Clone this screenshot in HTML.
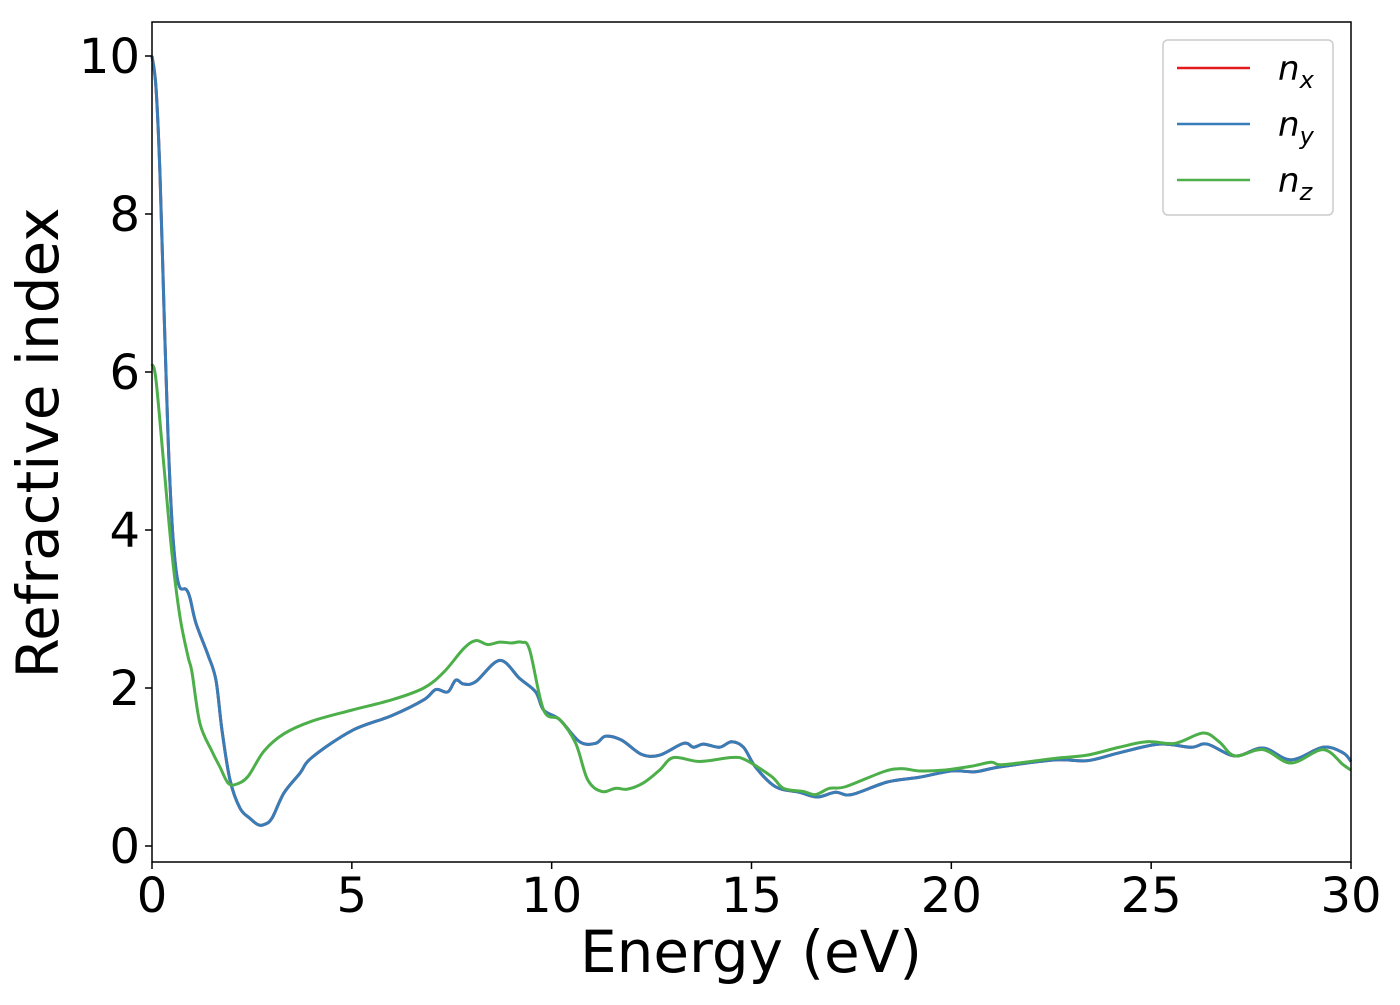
<!DOCTYPE html>
<html><head><meta charset="utf-8"><style>
body{margin:0;background:#fff;}
svg text{font-family:"DejaVu Sans","Liberation Sans",sans-serif;fill:#000;}
</style></head><body>
<svg id="chart" width="1400" height="1000">
<rect x="0" y="0" width="1400" height="1000" fill="#fff"/>
<g id="series"></g>
<rect x="152" y="22" width="1199" height="840" fill="none" stroke="#000" stroke-width="1.5"/>
<g id="axes"></g>
<text x="42" y="443" font-size="58" text-anchor="middle" transform="rotate(-90 42 443)" dominant-baseline="middle">Refractive index</text>
<text x="751" y="972" font-size="58" text-anchor="middle">Energy (eV)</text>
<g>
<rect x="1163" y="40" width="170" height="175" rx="5" fill="#fff" stroke="#ccc" stroke-width="1.5"/>
<line x1="1177" y1="68" x2="1250" y2="68" stroke="#e41a1c" stroke-width="2.5"/>
<text x="1278" y="80" font-size="34" font-style="italic">n<tspan font-size="24" dy="8">x</tspan></text>
<line x1="1177" y1="124" x2="1250" y2="124" stroke="#377eb8" stroke-width="2.5"/>
<text x="1278" y="136" font-size="34" font-style="italic">n<tspan font-size="24" dy="8">y</tspan></text>
<line x1="1177" y1="180" x2="1250" y2="180" stroke="#4daf4a" stroke-width="2.5"/>
<text x="1278" y="192" font-size="34" font-style="italic">n<tspan font-size="24" dy="8">z</tspan></text>
</g>
</svg>
<script>
const xTicks=[0,5,10,15,20,25,30];
const yTicks=[0,2,4,6,8,10];
const energyXY=[0,0.1,0.2,0.3,0.4,0.5,0.6,0.7,0.85,0.95,1.1,1.4,1.6,1.75,1.95,2.2,2.45,2.65,2.8,3.0,3.3,3.7,4.0,5.0,6.0,6.8,7.1,7.4,7.6,7.8,8.1,8.7,9.2,9.6,9.8,10.2,10.7,11.1,11.35,11.75,12.25,12.7,13.3,13.55,13.8,14.2,14.5,14.8,15.1,15.6,16.2,16.65,17.1,17.5,18.4,19.2,20.0,20.6,21.2,22.6,23.4,24.2,25.2,26.0,26.4,27.1,27.8,28.5,29.3,29.8,30];
const nxy=[10.0,9.6,8.5,6.8,5.2,4.1,3.5,3.27,3.25,3.14,2.82,2.42,2.1,1.47,0.84,0.48,0.35,0.27,0.27,0.35,0.67,0.92,1.12,1.46,1.65,1.85,1.98,1.95,2.1,2.05,2.08,2.35,2.12,1.95,1.72,1.6,1.32,1.30,1.39,1.34,1.16,1.15,1.30,1.25,1.29,1.25,1.32,1.25,1.0,0.75,0.68,0.62,0.68,0.65,0.81,0.87,0.95,0.94,1.0,1.09,1.08,1.18,1.29,1.25,1.29,1.14,1.24,1.09,1.25,1.18,1.07];
const energyZ=[0,0.1,0.3,0.5,0.7,0.9,1.0,1.2,1.5,1.7,1.9,2.1,2.4,2.8,3.3,4.0,5.0,6.0,6.8,7.3,7.8,8.1,8.4,8.7,9.0,9.25,9.45,9.8,10.2,10.6,10.9,11.25,11.6,11.9,12.3,12.7,13.05,13.7,14.5,14.85,15.5,15.8,16.3,16.6,16.95,17.35,18.3,18.75,19.2,19.8,20.5,21.0,21.3,22.6,23.4,24.2,24.9,25.6,26.3,26.7,27.1,27.8,28.5,29.3,29.8,30];
const nz=[6.1,5.9,4.8,3.7,2.9,2.4,2.2,1.55,1.2,1.0,0.8,0.78,0.88,1.2,1.42,1.58,1.72,1.85,2.0,2.2,2.5,2.6,2.55,2.58,2.57,2.58,2.48,1.72,1.6,1.3,0.84,0.69,0.73,0.72,0.8,0.96,1.12,1.07,1.12,1.09,0.88,0.73,0.69,0.65,0.73,0.75,0.94,0.98,0.95,0.96,1.01,1.06,1.03,1.11,1.15,1.25,1.32,1.30,1.43,1.32,1.14,1.22,1.05,1.22,1.03,0.96];
const NS='http://www.w3.org/2000/svg';
function xs(v){return 152+v*(1199/30);}
function ys(v){return 846-v*79;}
function pathD(X,Y){
  const p=X.map((x,i)=>[xs(x),ys(Y[i])]);
  let d='M'+p[0][0]+','+p[0][1];
  for(let i=0;i<p.length-1;i++){
    const p0=p[Math.max(0,i-1)],p1=p[i],p2=p[i+1],p3=p[Math.min(p.length-1,i+2)];
    const c1=[p1[0]+(p2[0]-p0[0])/6,p1[1]+(p2[1]-p0[1])/6];
    const c2=[p2[0]-(p3[0]-p1[0])/6,p2[1]-(p3[1]-p1[1])/6];
    d+=' C'+c1[0]+','+c1[1]+' '+c2[0]+','+c2[1]+' '+p2[0]+','+p2[1];
  }
  return d;
}
const g=document.getElementById('series');
function addLine(X,Y,color,name){
  const el=document.createElementNS(NS,'path');
  el.setAttribute('d',pathD(X,Y));
  el.setAttribute('fill','none');
  el.setAttribute('stroke',color);
  el.setAttribute('stroke-width','3');
  
  
  g.appendChild(el);
}
addLine(energyXY,nxy,'#e41a1c','line-nx');
addLine(energyXY,nxy,'#377eb8','line-ny');
addLine(energyZ,nz,'#4daf4a','line-nz');
const ax=document.getElementById('axes');
xTicks.forEach(t=>{
  const l=document.createElementNS(NS,'line');
  l.setAttribute('x1',xs(t));l.setAttribute('x2',xs(t));l.setAttribute('y1',862);l.setAttribute('y2',869);
  l.setAttribute('stroke','#000');l.setAttribute('stroke-width','1.5');
  
  
  ax.appendChild(l);
  const tx=document.createElementNS(NS,'text');
  tx.setAttribute('x',xs(t));tx.setAttribute('y',912);tx.setAttribute('font-size','48');tx.setAttribute('text-anchor','middle');
  tx.textContent=t;
  
  
  ax.appendChild(tx);
});
yTicks.forEach(t=>{
  const l=document.createElementNS(NS,'line');
  l.setAttribute('x1',145);l.setAttribute('x2',152);l.setAttribute('y1',ys(t));l.setAttribute('y2',ys(t));
  l.setAttribute('stroke','#000');l.setAttribute('stroke-width','1.5');
  
  
  ax.appendChild(l);
  const tx=document.createElementNS(NS,'text');
  tx.setAttribute('x',140);tx.setAttribute('y',ys(t)+17);tx.setAttribute('font-size','48');tx.setAttribute('text-anchor','end');
  tx.textContent=t;
  
  
  ax.appendChild(tx);
});
</script>
</body></html>
